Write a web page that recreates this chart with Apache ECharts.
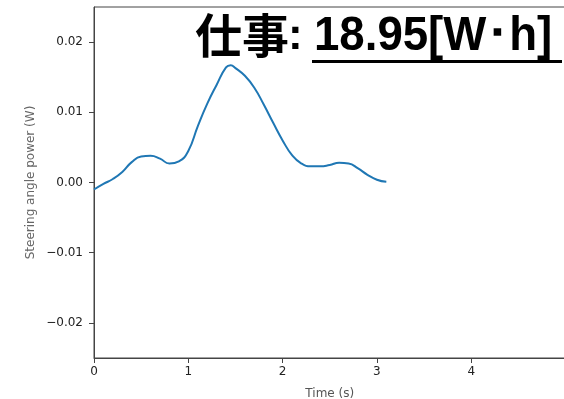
<!DOCTYPE html>
<html>
<head>
<meta charset="utf-8">
<script src="https://cdn.jsdelivr.net/npm/echarts@6/dist/echarts.min.js"></script>
<style>
html,body{margin:0;padding:0;background:#fff;}
#chart{width:564px;height:399px;}
</style>
</head>
<body>
<div id="chart"></div>
<script>
const timeValues = [0, 0.1, 0.2, 0.3, 0.4, 0.5, 0.6, 0.7, 0.8, 0.9, 1.0, 1.1, 1.2, 1.3, 1.4, 1.45, 1.5, 1.6, 1.7, 1.8, 1.9, 2.0, 2.1, 2.2, 2.3, 2.4, 2.5, 2.6, 2.7, 2.8, 2.9, 3.0, 3.1];
const powerValues = [-0.0010, -0.0002, 0.0005, 0.0015, 0.0029, 0.0037, 0.0038, 0.0034, 0.0027, 0.0030, 0.0045, 0.0080, 0.0112, 0.0139, 0.0164, 0.0167, 0.0163, 0.0152, 0.0135, 0.0111, 0.0085, 0.0060, 0.0039, 0.0027, 0.0023, 0.0023, 0.0025, 0.0028, 0.0027, 0.0020, 0.0011, 0.0004, 0.0001];
const xTicks = [0, 1, 2, 3, 4];
const yTicks = [-0.02, -0.01, 0, 0.01, 0.02];
const titleLabel = '仕事';
const titleColon = ':';
const workText = '18.95[W･h]';
const xName = 'Time (s)';
const yName = 'Steering angle power (W)';

const chart = echarts.init(document.getElementById('chart'), null, {renderer: 'canvas'});
const axisColor = '#444';
chart.setOption({
  animation: false,
  grid: {left: 94, top: 7, width: 471.5, height: 351, show: true, borderColor: axisColor, borderWidth: 1,
    backgroundColor: 'transparent', outerBoundsMode: 'none', containLabel: false},
  xAxis: {
    type: 'value', min: 0, max: 5,
    name: xName, nameLocation: 'middle', nameGap: 30, nameMoveOverlap: false,
    nameTextStyle: {fontFamily: 'DejaVu Sans', fontSize: 12, color: '#555'},
    axisLine: {show: true, onZero: false, lineStyle: {color: axisColor, width: 1}},
    axisTick: {show: true, length: 5, lineStyle: {color: axisColor}, customValues: xTicks},
    axisLabel: {customValues: xTicks, margin: 8, fontFamily: 'DejaVu Sans', fontSize: 12, color: '#222', formatter: v => String(v)},
    splitLine: {show: false}
  },
  yAxis: {
    type: 'value', min: -0.025, max: 0.025,
    name: yName, nameLocation: 'middle', nameGap: 57, nameRotate: 90, nameMoveOverlap: false,
    nameTextStyle: {fontFamily: 'DejaVu Sans', fontSize: 12, color: '#666'},
    axisLine: {show: true, onZero: false, lineStyle: {color: axisColor, width: 1}},
    axisTick: {show: true, length: 5, lineStyle: {color: axisColor}, customValues: yTicks},
    axisLabel: {customValues: yTicks, margin: 11, fontFamily: 'DejaVu Sans', fontSize: 12, color: '#222',
      formatter: v => v.toFixed(2).replace('-', '\u2212')},
    splitLine: {show: false}
  },
  series: [{
    type: 'line',
    data: timeValues.map((t, i) => [t, powerValues[i]]),
    smooth: 0.5,
    showSymbol: false,
    lineStyle: {color: '#1f77b4', width: 2},
    clip: false
  }],
  graphic: [
    {type: 'text', x: 195, y: 12, z: 100,
      style: {text: titleLabel, font: 'bold 47px "Noto Sans CJK JP"', fill: '#000'}},
    {type: 'text', x: 288, y: 15, z: 100,
      style: {text: titleColon, font: 'bold 44px "Liberation Sans"', fill: '#000'}},
    {type: 'text', x: 314, y: 13, scaleX: 0.95, z: 100,
      style: {text: workText, font: 'bold 48px "Liberation Sans"', fill: '#000'}},
    {type: 'line', z: 100, shape: {x1: 312, y1: 61.5, x2: 562, y2: 61.5}, style: {stroke: '#000', lineWidth: 3}}
  ]
});
</script>
</body>
</html>
